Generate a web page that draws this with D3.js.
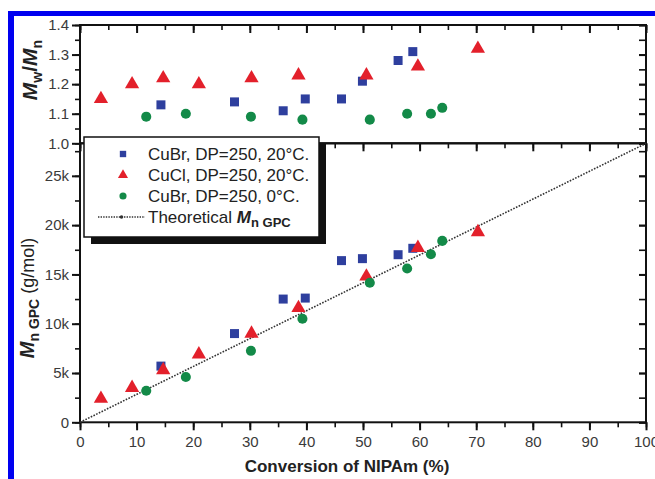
<!DOCTYPE html>
<html>
<head>
<meta charset="utf-8">
<script src="https://cdn.jsdelivr.net/npm/d3@7"></script>
<style>
  body { margin: 0; background: #fff; }
  svg { display: block; font-family: "Liberation Sans", Arial, sans-serif; }
</style>
</head>
<body>
<div id="chart"></div>
<script>
// conversion (%), Mn GPC (g/mol) and Mw/Mn for each run
const cubr20Conv = [14.3, 27.3, 35.9, 39.8, 46.2, 49.9, 56.2, 58.8]
const cubr20Mn = [5700, 9000, 12500, 12600, 16400, 16600, 17000, 17650]
const cubr20Pdi = [1.13, 1.14, 1.11, 1.15, 1.15, 1.21, 1.28, 1.31]

const cucl20Conv = [3.7, 9.2, 14.7, 21.0, 30.3, 38.6, 50.6, 59.7, 70.3]
const cucl20Mn = [2400, 3500, 5300, 6900, 9000, 11600, 14800, 17700, 19300]
const cucl20Pdi = [1.15, 1.20, 1.22, 1.20, 1.22, 1.23, 1.23, 1.26, 1.32]

const cubr0Conv = [11.7, 18.7, 30.2, 39.3, 51.2, 57.8, 62.0, 64.0]
const cubr0Mn = [3200, 4600, 7250, 10500, 14150, 15600, 17050, 18400]
const cubr0Pdi = [1.09, 1.10, 1.09, 1.08, 1.08, 1.10, 1.10, 1.12]

// theoretical Mn line, DP = 250
const theoryConv = [0, 100]
const theoryMn = [0, 28290]

const xTicks = [0, 10, 20, 30, 40, 50, 60, 70, 80, 90, 100]
const pdiTicks = [1.0, 1.1, 1.2, 1.3, 1.4]
const mnTicks = [0, 5000, 10000, 15000, 20000, 25000]
const mnTickLabels = ['0', '5k', '10k', '15k', '20k', '25k']

const series = [
  { label: 'CuBr, DP=250, 20\u00b0C.', conv: cubr20Conv, mn: cubr20Mn, pdi: cubr20Pdi, color: '#2e3f9e', symbol: d3.symbolSquare, size: 81 },
  { label: 'CuCl, DP=250, 20\u00b0C.', conv: cucl20Conv, mn: cucl20Mn, pdi: cucl20Pdi, color: '#e3202b', symbol: d3.symbolTriangle, size: 88 },
  { label: 'CuBr, DP=250, 0\u00b0C.', conv: cubr0Conv, mn: cubr0Mn, pdi: cubr0Pdi, color: '#138a48', symbol: d3.symbolCircle, size: 80 }
]

const width = 655, height = 479
const left = 80, right = 646
const topY = 25, midY = 143.3, bottomY = 422.3

const svg = d3.select('#chart').append('svg')
  .attr('width', width)
  .attr('height', height)

// blue frame of the figure
svg.append('rect').attr('x', 8).attr('y', 11).attr('width', width - 8).attr('height', 5).attr('fill', '#0000f0')
svg.append('rect').attr('x', 8).attr('y', 11).attr('width', 6).attr('height', height - 11).attr('fill', '#0000f0')

let x = d3.scaleLinear().domain([0, 100]).range([left, right])
let yPdi = d3.scaleLinear().domain([1.0, 1.4]).range([midY, topY])
let yMn = d3.scaleLinear().domain([0, 28300]).range([bottomY, midY])

let minor = (lo, hi, step) => d3.range(lo, hi + step / 2, step)

// draw one axis: major ticks plus minor ticks, domain removed
function drawAxis(g, axisFn, scale, majors, minors, size, minorSize, labels) {
  g.call(axisFn(scale).tickValues(minors).tickSize(minorSize).tickFormat(''))
    .call(g => g.select('.domain').remove())
    .call(g => g.selectAll('.tick line').attr('stroke', '#111').attr('stroke-width', 1.6))
  let mg = g.append('g')
  mg.call(axisFn(scale).tickValues(majors).tickSize(size).tickPadding(3).tickFormat(labels || ''))
    .call(g => g.select('.domain').remove())
    .call(g => g.selectAll('.tick line').attr('stroke', '#111').attr('stroke-width', 2))
    .call(g => g.selectAll('.tick text')
      .attr('font-size', '15px')
      .attr('fill', '#3a3a3a')
      .attr('font-family', '"Liberation Sans", Arial, sans-serif'))
  return mg
}

// ---- top panel: Mw/Mn ----
drawAxis(svg.append('g').attr('transform', `translate(${left},0)`), d3.axisLeft, yPdi,
  pdiTicks, minor(1.0, 1.4, 0.05), 8, 5, d => d.toFixed(1))
drawAxis(svg.append('g').attr('transform', `translate(${right},0)`), d3.axisLeft, yPdi,
  pdiTicks, minor(1.0, 1.4, 0.05), 7, 7)
drawAxis(svg.append('g').attr('transform', `translate(0,${topY})`), d3.axisTop, x,
  xTicks, minor(0, 100, 5), -8, -5)

// ---- bottom panel: Mn ----
drawAxis(svg.append('g').attr('transform', `translate(${left},0)`), d3.axisLeft, yMn,
  mnTicks, minor(0, 27500, 2500), 8, 5, (d, i) => mnTickLabels[i])
drawAxis(svg.append('g').attr('transform', `translate(${right},0)`), d3.axisLeft, yMn,
  mnTicks, minor(0, 27500, 2500), 7, 7)
drawAxis(svg.append('g').attr('transform', `translate(0,${midY})`), d3.axisTop, x,
  xTicks, minor(0, 100, 5), -8, -5)
drawAxis(svg.append('g').attr('transform', `translate(0,${bottomY})`), d3.axisBottom, x,
  xTicks, minor(0, 100, 5), 8, 5, d => d)
  .selectAll('.tick text').attr('dy', '0.9em')

// panel frames
svg.append('rect').attr('x', left).attr('y', topY).attr('width', right - left).attr('height', midY - topY)
  .attr('fill', 'none').attr('stroke', '#111').attr('stroke-width', 2)
svg.append('rect').attr('x', left).attr('y', midY).attr('width', right - left).attr('height', bottomY - midY)
  .attr('fill', 'none').attr('stroke', '#111').attr('stroke-width', 2)

// theoretical line
svg.append('path')
  .datum(theoryConv.map((c, i) => [c, theoryMn[i]]))
  .attr('d', d3.line().x(d => x(d[0])).y(d => yMn(d[1])))
  .attr('fill', 'none')
  .attr('stroke', '#333')
  .attr('stroke-width', 1.6)
  .attr('stroke-dasharray', '1.6,1.4')

// data points
let marks = svg.append('g')
series.forEach(s => {
  let sym = d3.symbol().type(s.symbol).size(s.size)
  marks.append('g').selectAll('path.mn')
    .data(s.conv.map((c, i) => [c, s.mn[i]]))
    .enter().append('path')
    .attr('transform', d => `translate(${x(d[0])},${yMn(d[1])})`)
    .attr('d', sym)
    .attr('fill', s.color)
  marks.append('g').selectAll('path.pdi')
    .data(s.conv.map((c, i) => [c, s.pdi[i]]))
    .enter().append('path')
    .attr('transform', d => `translate(${x(d[0])},${yPdi(d[1])})`)
    .attr('d', sym)
    .attr('fill', s.color)
})

// legend with drop shadow
let lg = svg.append('g').attr('transform', 'translate(84,137)')
lg.append('rect').attr('x', 7).attr('y', 7).attr('width', 235).attr('height', 100).attr('fill', '#111')
lg.append('rect').attr('x', 0).attr('y', 0).attr('width', 235).attr('height', 100)
  .attr('fill', '#fff').attr('stroke', '#111').attr('stroke-width', 1.5)

series.forEach((s, i) => {
  let yy = 17 + i * 21
  lg.append('path')
    .attr('transform', `translate(39,${yy})`)
    .attr('d', d3.symbol().type(s.symbol).size(s.size * 0.5))
    .attr('fill', s.color)
  lg.append('text').attr('x', 64).attr('y', yy).attr('dy', '0.36em')
    .attr('font-size', '17px').attr('fill', '#222').text(s.label)
})
let ly = 17 + 3 * 21
lg.append('line').attr('x1', 14).attr('x2', 61).attr('y1', ly).attr('y2', ly)
  .attr('stroke', '#333').attr('stroke-width', 1.4).attr('stroke-dasharray', '1.4,1.2')
lg.append('circle').attr('cx', 37.5).attr('cy', ly).attr('r', 1.8).attr('fill', '#333')
let lt = lg.append('text').attr('x', 64).attr('y', ly).attr('dy', '0.36em')
  .attr('font-size', '17px').attr('fill', '#222')
lt.append('tspan').text('Theoretical ')
lt.append('tspan').attr('font-weight', 'bold').attr('font-style', 'italic').text('M')
lt.append('tspan').attr('font-weight', 'bold').attr('font-size', '13px').attr('dy', '4').text('n GPC')

// y axis titles
let t1 = svg.append('text')
  .attr('transform', 'translate(37,70) rotate(-90)')
  .attr('text-anchor', 'middle')
  .attr('font-size', '21px').attr('font-weight', 'bold').attr('fill', '#222')
t1.append('tspan').attr('font-style', 'italic').text('M')
t1.append('tspan').attr('font-size', '14px').attr('dy', '5').text('w')
t1.append('tspan').attr('dy', '-5').text('/')
t1.append('tspan').attr('font-style', 'italic').text('M')
t1.append('tspan').attr('font-size', '14px').attr('dy', '5').text('n')

let t2 = svg.append('text')
  .attr('transform', 'translate(34,298) rotate(-90)')
  .attr('text-anchor', 'middle')
  .attr('font-size', '20px').attr('fill', '#222')
t2.append('tspan').attr('font-weight', 'bold').attr('font-style', 'italic').text('M')
t2.append('tspan').attr('font-weight', 'bold').attr('font-size', '14px').attr('dy', '5').text('n GPC')
t2.append('tspan').attr('dy', '-5').attr('font-size', '18px').text(' (g/mol)')

// x axis title
svg.append('text')
  .attr('x', (left + right) / 2 - 16).attr('y', 472)
  .attr('text-anchor', 'middle')
  .attr('font-size', '17px').attr('font-weight', 'bold').attr('fill', '#222')
  .text('Conversion of NIPAm (%)')
</script>
</body>
</html>
